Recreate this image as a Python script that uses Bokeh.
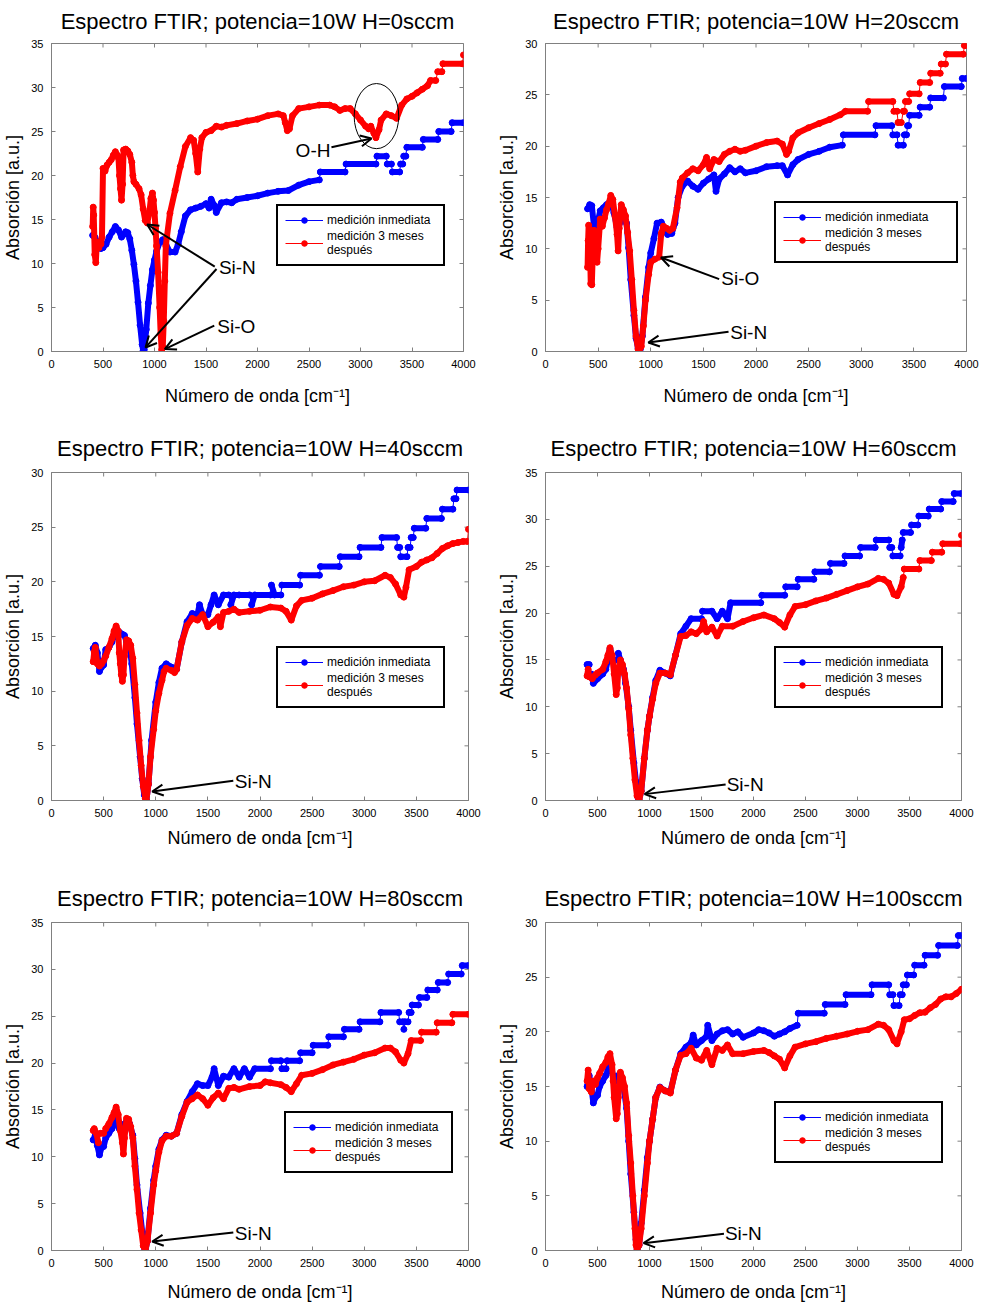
import math
from bokeh.plotting import figure
from bokeh.models import (Range1d, SingleIntervalTicker, Legend, LegendItem,
                          Arrow, OpenHead, Label)
from bokeh.layouts import column, row
from bokeh.embed import file_html
from bokeh.resources import INLINE

FONT = "Liberation Sans"
BLUE = "#0000ff"
RED = "#ff0000"

titles = ["Espectro FTIR; potencia=10W H=0sccm", "Espectro FTIR; potencia=10W H=20sccm",
          "Espectro FTIR; potencia=10W H=40sccm", "Espectro FTIR; potencia=10W H=60sccm",
          "Espectro FTIR; potencia=10W H=80sccm", "Espectro FTIR; potencia=10W H=100sccm"]
y_max = [35, 30, 30, 35, 35, 30]
x_ticks = [0, 500, 1000, 1500, 2000, 2500, 3000, 3500, 4000]
x_label = "Número de onda [cm⁻¹]"
y_label = "Absorción [a.u.]"
legend_labels = ["medición inmediata", "medición 3 meses\ndespués"]

# ---------------- H = 0 sccm ----------------
x_h0_inm = [400,420,440,460,480,500,530,560,590,620,650,680,700,720,740,760,780,800,820,840,860,880,890,900,
            920,940,960,980,1000,1020,1050,1080,1110,1150,1200,1230,1260,1300,1350,1400,1450,1500,1530,1550,
            1580,1600,1650,1700,1750,1800,1900,2000,2100,2200,2300,2400,2500,2600,2610,2850,2860,3150,3160,
            3250,3260,3300,3310,3380,3390,3410,3420,3440,3450,3600,3610,3750,3760,3880,3890,4000]
y_h0_inm = [13.2,13.0,12.5,12.0,11.7,11.8,12.2,13.0,13.6,14.2,13.8,13.0,13.3,13.6,13.5,12.8,11.5,9.9,8.0,5.6,3.0,0.8,0.1,0.2,
            2.5,5.5,7.5,9.3,10.4,11.4,12.4,12.7,12.2,11.3,11.3,12.2,13.6,15.4,16.1,16.3,16.5,16.8,16.3,17.3,
            16.6,15.8,16.9,17.0,16.9,17.3,17.5,17.7,18.0,18.2,18.3,18.9,19.3,19.5,20.4,20.4,21.3,21.3,22.2,
            22.2,21.3,21.3,20.4,20.4,21.3,21.3,22.2,22.2,23.2,23.2,24.1,24.1,25.0,25.0,26.0,26.0]
x_h0_3m = [400,405,410,420,430,440,450,460,470,480,490,500,520,540,560,580,600,620,640,650,660,670,680,690,
           700,720,740,760,780,790,800,820,850,870,890,910,930,950,965,980,990,1000,1010,1020,1035,1050,1060,
           1070,1080,1090,1100,1110,1120,1150,1200,1250,1300,1350,1380,1400,1420,1440,1460,1500,1550,1600,
           1650,1700,1800,1900,2000,2100,2200,2250,2270,2290,2310,2340,2400,2500,2600,2700,2750,2800,2850,
           2900,2950,3000,3050,3080,3100,3130,3150,3180,3200,3250,3300,3350,3400,3450,3500,3550,3600,3650,
           3680,3730,3750,3790,3800,3990,4000]
y_h0_3m = [14.2,16.4,15.5,11.0,10.1,12.3,12.0,11.8,12.5,12.2,13.0,20.8,20.5,21.2,21.5,21.8,22.3,22.7,22.3,22.0,20.0,18.5,17.2,19.0,
           22.9,23.0,22.8,22.4,21.5,20.0,19.3,19.0,18.5,17.8,16.2,14.9,14.6,15.8,17.4,18.0,17.2,15.8,14.0,12.0,9.0,5.0,2.0,
           0.2,0.5,3.5,8.0,12.0,13.0,15.7,18.3,21.0,23.3,24.3,24.0,22.5,20.4,23.0,24.3,24.9,25.1,25.6,
           25.5,25.7,25.9,26.2,26.4,26.8,27.0,26.8,26.0,25.1,25.3,26.8,27.6,27.8,28.0,28.0,27.8,27.4,27.6,
           27.6,27.0,26.3,25.6,25.3,25.6,24.8,24.3,25.2,26.3,27.0,26.8,26.5,28.0,28.7,29.0,29.4,29.8,30.2,
           30.8,30.8,31.8,31.8,32.7,32.7,33.7]

# ---------------- H = 20 sccm ----------------
x_h20_inm = [400,420,440,460,480,500,520,550,580,620,650,680,700,720,750,770,790,810,840,860,880,900,920,950,
             980,1000,1030,1060,1100,1130,1160,1200,1230,1260,1300,1350,1400,1450,1500,1550,1600,1620,1650,
             1700,1750,1800,1850,1900,2000,2100,2200,2250,2300,2350,2400,2500,2600,2700,2820,2830,3130,3140,
             3290,3300,3340,3350,3400,3410,3430,3440,3450,3460,3550,3560,3650,3660,3780,3790,3950,3960,4000]
y_h20_inm = [13.9,14.3,14.2,12.3,12.0,12.8,13.7,14.0,14.3,14.7,13.5,12.1,12.4,12.8,13.0,12.5,10.1,7.0,3.5,1.3,0.3,0.2,1.5,5.3,
             8.2,9.6,11.0,12.5,12.6,12.0,11.4,11.5,12.5,15.0,16.1,16.6,16.1,15.8,16.4,16.8,17.2,15.6,16.8,
             17.3,17.9,17.5,17.8,17.4,17.6,18.0,18.1,18.1,17.2,18.2,18.7,19.2,19.5,19.9,20.1,21.1,21.1,22.0,
             22.0,21.1,21.1,20.1,20.1,21.1,21.1,22.0,22.0,23.0,23.0,23.8,23.8,24.7,24.7,25.8,25.8,26.6,26.6]
x_h20_3m = [400,405,410,420,430,440,450,460,470,480,490,500,520,540,560,580,600,620,640,660,680,690,700,720,
            740,760,780,800,820,840,860,880,890,910,930,950,980,1000,1040,1080,1100,1120,1150,1180,1210,1250,
            1280,1300,1350,1400,1450,1500,1530,1560,1600,1650,1700,1750,1800,1850,1900,2000,2100,2200,2250,
            2290,2310,2350,2400,2500,2600,2700,2800,2850,3060,3070,3300,3310,3340,3350,3380,3400,3410,3420,
            3450,3460,3550,3560,3650,3660,3750,3760,3800,3810,3970,3980,4000]
y_h20_3m = [8.2,10.8,12.3,11.5,6.6,6.5,9.8,11.8,10.5,11.0,8.7,10.0,12.9,12.2,13.0,13.8,14.4,15.2,14.8,13.2,11.4,9.8,12.0,14.3,
            13.8,13.2,11.6,9.8,7.0,4.0,1.5,0.2,0.0,0.5,2.5,5.0,7.5,8.7,9.0,9.2,11.5,12.2,12.0,11.8,12.0,14.0,
            16.5,16.9,17.4,17.8,17.6,18.2,18.9,17.8,18.7,18.5,19.2,19.5,19.7,19.5,19.6,20.0,20.35,20.5,20.2,
            19.2,19.5,20.8,21.3,21.8,22.2,22.6,23.05,23.4,23.4,24.35,24.35,23.4,23.4,22.3,22.3,23.4,23.4,24.35,
            24.35,25.1,25.1,26.2,26.2,27.1,27.1,28.0,28.0,28.96,28.96,29.8,29.8]

# ---------------- H = 40 sccm ----------------
x_h40_inm = [400,420,440,460,480,500,520,550,580,600,620,650,680,700,720,750,770,800,820,850,870,890,910,930,
             960,1000,1030,1060,1100,1150,1200,1250,1300,1350,1400,1420,1450,1500,1530,1560,1600,1650,1700,1720,
             1750,1800,1900,1920,1950,2100,2110,2140,2200,2210,2380,2390,2570,2580,2760,2770,2950,2960,3160,
             3170,3310,3320,3340,3350,3410,3420,3440,3450,3470,3480,3590,3600,3740,3750,3850,3860,3880,3890,4000]
y_h40_inm = [13.9,14.2,13.5,11.8,12.2,12.4,13.8,14.0,14.5,15.0,15.7,15.4,15.2,15.1,14.5,14.0,12.5,9.4,7.0,4.0,2.0,0.5,0.0,1.5,
             5.5,9.0,10.8,12.1,12.5,12.2,12.0,14.5,16.35,17.1,17.0,17.9,17.0,17.0,17.9,18.8,17.9,18.8,18.8,17.9,
             18.8,18.8,18.8,17.9,18.8,18.8,19.7,18.8,18.8,19.7,19.7,20.6,20.6,21.4,21.4,22.3,22.3,23.15,23.15,
             24.05,24.05,23.15,23.15,22.3,22.3,23.15,23.15,24.05,24.05,24.9,24.9,25.8,25.8,26.65,26.65,27.6,27.6,28.4,28.4]
x_h40_3m = [400,410,420,440,460,480,500,520,550,580,600,620,640,650,660,670,680,690,700,720,740,760,780,800,
            820,840,860,880,900,910,930,950,980,1000,1030,1060,1080,1100,1150,1180,1200,1250,1300,1350,1400,
            1450,1500,1550,1600,1620,1650,1700,1750,1800,1900,2000,2100,2200,2250,2300,2350,2400,2500,2600,
            2700,2800,2900,3000,3100,3200,3250,3300,3350,3380,3400,3430,3500,3550,3600,3650,3700,3750,3800,
            3850,3900,3950,3990,4000]
y_h40_3m = [12.7,13.6,14.0,12.5,12.3,12.5,12.8,13.2,14.0,14.8,15.5,15.96,15.5,13.5,12.5,11.5,10.9,11.5,13.2,14.7,14.6,14.2,13.0,10.6,
            8.0,5.5,3.2,1.3,0.2,0.0,1.5,4.0,6.5,8.2,9.8,11.0,11.8,12.1,11.9,11.7,12.0,14.5,16.0,16.65,16.5,
            17.0,15.9,16.3,16.8,15.9,17.2,17.3,17.5,17.2,17.3,17.4,17.7,17.6,17.3,16.5,17.8,18.3,18.5,18.9,
            19.2,19.55,19.7,20.0,20.1,20.6,20.4,19.8,18.8,18.6,19.5,21.1,21.4,21.8,22.0,22.2,22.6,23.05,23.3,
            23.5,23.6,23.7,23.7,24.8]

# ---------------- H = 60 sccm ----------------
x_h60_inm = [400,420,440,460,480,500,550,580,600,620,650,680,700,720,750,770,800,820,850,870,890,900,920,950,
             980,1000,1030,1060,1100,1150,1200,1250,1300,1350,1400,1500,1510,1600,1650,1700,1750,1780,2070,2080,
             2300,2310,2420,2430,2580,2590,2730,2740,2870,2880,3020,3030,3170,3180,3300,3310,3330,3340,3410,
             3420,3430,3440,3510,3520,3580,3590,3680,3690,3800,3810,3920,3930,4000]
y_h60_inm = [14.5,14.5,13.5,12.5,12.8,13.0,13.5,14.0,15.0,16.2,15.0,15.0,15.7,15.0,14.0,12.5,10.0,7.5,4.0,2.0,0.3,0.0,1.0,4.5,
             7.5,9.0,11.0,12.8,13.9,13.6,13.3,15.5,17.8,18.6,19.4,19.4,20.2,20.2,19.4,20.2,19.4,21.1,21.1,21.9,
             21.9,22.8,22.8,23.6,23.6,24.4,24.4,25.3,25.3,26.1,26.1,27.0,27.0,27.8,27.8,27.0,27.0,26.1,26.1,
             27.0,27.8,28.6,28.6,29.4,29.4,30.35,30.35,31.1,31.1,31.9,31.9,32.75,32.75]
x_h60_3m = [400,410,420,450,480,500,550,580,600,620,640,660,680,690,700,720,740,760,780,800,820,840,860,880,
            900,920,950,980,1000,1030,1060,1100,1150,1200,1250,1300,1350,1400,1450,1500,1520,1550,1600,1650,
            1700,1800,1900,2000,2100,2200,2250,2300,2350,2400,2500,2600,2700,2800,2900,3000,3100,3200,3250,
            3300,3350,3380,3420,3440,3450,3590,3600,3710,3720,3810,3820,3990,4000]
y_h60_3m = [13.3,14.0,13.2,13.0,13.4,13.6,14.0,14.8,15.5,16.3,15.5,13.5,11.3,12.0,14.0,15.0,14.5,13.5,12.0,9.8,7.0,4.5,2.2,0.5,
            0.0,1.0,4.5,7.5,9.0,10.8,12.5,13.6,13.6,13.4,15.5,17.5,17.6,18.0,17.8,18.3,19.1,18.0,18.5,17.55,
            18.6,18.6,19.1,19.5,19.8,19.4,19.0,18.5,19.8,20.7,20.9,21.3,21.6,22.0,22.4,22.8,23.1,23.7,23.6,
            23.2,22.0,21.85,22.8,23.8,24.7,24.7,25.6,25.6,26.5,26.5,27.4,27.4,28.3]

# ---------------- H = 80 sccm ----------------
x_h80_inm = [400,420,440,460,480,500,520,550,580,600,620,650,680,700,720,750,780,800,820,850,870,890,900,920,
             950,980,1000,1030,1060,1100,1150,1200,1250,1300,1350,1400,1450,1500,1540,1560,1600,1650,1700,1750,
             1800,1850,1900,1950,2100,2110,2200,2210,2250,2260,2380,2390,2500,2510,2650,2660,2800,2810,2950,
             2960,3150,3160,3330,3340,3370,3380,3390,3420,3430,3450,3460,3520,3530,3600,3610,3700,3710,3800,
             3810,3930,3940,4000]
y_h80_inm = [11.8,12.3,11.2,10.2,11.0,11.1,12.0,12.5,13.0,13.5,13.9,13.0,12.5,13.5,13.8,13.5,12.3,9.8,7.0,4.0,2.0,0.3,0.0,1.0,
             4.5,7.5,9.0,10.8,11.8,12.3,12.2,12.5,14.5,15.9,16.95,17.8,17.6,17.6,18.5,19.4,17.6,18.6,18.5,19.4,
             18.5,19.4,18.5,19.4,19.4,20.25,20.25,19.4,19.4,20.25,20.25,21.1,21.1,21.9,21.9,22.8,22.8,23.6,23.6,
             24.4,24.4,25.4,25.4,24.4,24.4,23.6,24.4,24.4,25.4,25.4,26.2,26.2,27.0,27.0,27.8,27.8,28.6,28.6,
             29.5,29.5,30.4,30.4]
x_h80_3m = [400,410,430,450,470,500,520,550,580,600,620,640,660,680,690,700,720,740,760,780,800,820,840,860,
            880,900,920,950,980,1000,1030,1060,1100,1150,1200,1250,1300,1350,1400,1450,1500,1550,1600,1650,
            1700,1750,1800,1900,2000,2050,2100,2200,2250,2300,2350,2400,2500,2600,2700,2800,2900,3000,3100,
            3200,3250,3300,3350,3380,3420,3450,3540,3550,3690,3700,3840,3850,4000]
y_h80_3m = [12.8,13.0,12.5,11.5,12.5,12.5,13.0,13.5,14.2,14.7,15.3,14.5,12.8,11.5,10.3,12.0,14.1,14.0,13.2,12.0,9.0,6.5,4.0,2.2,
            0.5,0.0,1.0,4.0,7.0,8.5,10.5,11.7,12.2,12.2,12.5,14.3,15.8,16.2,16.6,16.2,15.5,16.3,16.8,16.2,
            17.3,17.4,17.2,17.5,17.6,18.0,17.9,17.7,17.4,16.95,17.8,18.7,18.9,19.3,19.8,20.1,20.4,20.85,21.1,
            21.6,21.6,21.2,20.3,20.0,21.0,22.4,22.4,23.3,23.3,24.3,24.3,25.2,25.2]

# ---------------- H = 100 sccm ----------------
x_h100_inm = [400,420,440,460,480,500,520,550,580,600,620,650,680,700,720,750,780,800,820,850,870,880,900,920,
              950,980,1000,1030,1060,1100,1150,1200,1250,1300,1350,1400,1420,1450,1500,1550,1560,1600,1650,1700,
              1750,1800,1850,1900,2000,2050,2100,2150,2200,2250,2300,2350,2420,2430,2680,2690,2880,2890,3130,
              3140,3300,3310,3340,3350,3400,3410,3430,3440,3470,3480,3540,3550,3640,3650,3770,3780,3960,3970,4000]
y_h100_inm = [15.0,16.0,15.0,13.5,14.0,14.2,15.0,15.5,16.0,16.5,17.1,16.0,15.5,16.0,15.8,15.0,13.0,10.0,7.0,3.5,1.0,0.0,0.5,2.5,
              5.5,8.5,10.0,12.0,14.0,14.95,14.6,14.5,16.5,18.0,18.6,19.0,19.7,18.8,19.2,19.6,20.6,19.2,19.8,20.1,
              20.2,19.8,20.0,19.5,19.9,20.2,20.1,19.9,19.6,19.8,20.0,20.3,20.6,21.7,21.7,22.5,22.5,23.4,23.4,
              24.3,24.3,23.4,23.4,22.4,22.4,23.4,23.4,24.3,24.3,25.2,25.2,26.1,26.1,27.0,27.0,27.9,27.9,28.8,28.8]
x_h100_3m = [400,410,420,440,460,480,500,520,550,580,600,620,640,650,660,680,690,700,720,740,760,780,800,820,
             840,860,870,880,900,920,950,980,1000,1030,1060,1100,1150,1200,1250,1300,1350,1400,1450,1500,1550,
             1600,1650,1700,1750,1800,1900,2000,2100,2150,2200,2250,2300,2350,2400,2500,2600,2700,2800,2900,
             3000,3100,3200,3250,3300,3350,3380,3420,3450,3500,3550,3600,3650,3700,3750,3800,3850,3900,3950,4000]
y_h100_3m = [15.5,16.5,14.8,14.5,15.5,15.2,15.8,16.2,16.8,17.2,17.7,18.0,17.0,15.5,14.0,12.05,12.5,14.0,16.3,15.8,15.0,13.5,10.5,8.0,
             5.0,2.0,0.5,0.0,0.5,2.0,5.0,8.0,10.0,12.0,14.0,14.9,14.6,14.4,16.5,17.85,18.0,18.5,17.6,17.4,18.3,
             17.0,18.5,18.3,18.8,18.0,18.0,18.2,18.3,18.1,17.8,17.5,16.7,17.8,18.6,18.9,19.1,19.4,19.6,19.8,
             20.05,20.2,20.7,20.6,20.2,19.2,18.9,20.0,21.1,21.2,21.5,21.75,21.8,22.2,22.5,23.0,23.2,23.2,23.5,23.9]

# annotation texts/positions (data units) per panel
notes = [
    [("O-H", 2370, 22.85), ("Si-N", 1625, 9.5), ("Si-O", 1610, 2.85)],
    [("Si-O", 1670, 7.14), ("Si-N", 1755, 1.85)],
    [("Si-N", 1758, 1.7)],
    [("Si-N", 1742, 1.67)],
    [("Si-N", 1758, 1.85)],
    [("Si-N", 1725, 1.53)],
]
arrows = [
    [(2718, 23.2, 3107, 24.2), (1585, 9.65, 929, 14.43), (1602, 9.38, 913, 0.46), (1580, 2.93, 1100, 0.27)],
    [(1650, 7.05, 1097, 9.16), (1739, 1.92, 977, 0.88)],
    [(1744, 1.8, 966, 0.82)],
    [(1732, 1.7, 953, 0.68)],
    [(1744, 1.92, 966, 0.96)],
    [(1716, 1.53, 943, 0.67)],
]

series = [
    (x_h0_inm, y_h0_inm, x_h0_3m, y_h0_3m),
    (x_h20_inm, y_h20_inm, x_h20_3m, y_h20_3m),
    (x_h40_inm, y_h40_inm, x_h40_3m, y_h40_3m),
    (x_h60_inm, y_h60_inm, x_h60_3m, y_h60_3m),
    (x_h80_inm, y_h80_inm, x_h80_3m, y_h80_3m),
    (x_h100_inm, y_h100_inm, x_h100_3m, y_h100_3m),
]

# layout (frame size, borders l, r, t, b, title standoff, x-label standoff, legend location / label width)
layout = [
    dict(fw=412, fh=308, l=50, r=31, t=43, b=74, ts=15, xs=15, leg=(225, 85), lw=109),
    dict(fw=421, fh=308, l=50, r=22, t=43, b=74, ts=15, xs=15, leg=(229, 88), lw=124),
    dict(fw=417, fh=328, l=50, r=26, t=47, b=75, ts=19, xs=8, leg=(225, 92), lw=109),
    dict(fw=416, fh=328, l=50, r=27, t=47, b=75, ts=19, xs=8, leg=(229, 92), lw=109),
    dict(fw=417, fh=328, l=50, r=26, t=47, b=55, ts=19, xs=12, leg=(233, 77), lw=109),
    dict(fw=416, fh=328, l=50, r=27, t=47, b=55, ts=19, xs=12, leg=(229, 87), lw=109),
]

GRAY = "#808080"


def split_runs(xs, ys):
    # thick bands along the measured points; the thin quantisation jumps between flat steps stay thin
    segs_x, segs_y = [[xs[0]]], [[ys[0]]]
    n = len(xs)
    for k in range(1, n):
        jump = xs[k] - xs[k - 1] <= 20 and abs(ys[k] - ys[k - 1]) >= 0.5
        flat_before = k >= 2 and ys[k - 1] == ys[k - 2]
        flat_after = k + 1 < n and ys[k + 1] == ys[k]
        if jump and (flat_before or flat_after):
            segs_x.append([])
            segs_y.append([])
        segs_x[-1].append(xs[k])
        segs_y[-1].append(ys[k])
    return segs_x, segs_y


def make_panel(i):
    L = layout[i]
    xb, yb, xr, yr = series[i]
    ymax = y_max[i]
    p = figure(frame_width=L["fw"], frame_height=L["fh"], min_border_left=L["l"], min_border_right=L["r"],
               min_border_top=L["t"], min_border_bottom=L["b"], x_range=Range1d(0, 4000),
               y_range=Range1d(0, ymax), output_backend="svg", toolbar_location=None,
               title=titles[i])
    p.title.text_font = FONT
    p.title.text_font_size = "22px"
    p.title.text_font_style = "normal"
    p.title.align = "center"
    p.title.vertical_align = "top"
    p.title.standoff = L["ts"]
    p.title.text_color = "#000000"
    p.grid.visible = False
    p.outline_line_color = GRAY
    p.outline_line_width = 1
    p.background_fill_color = "white"
    p.border_fill_color = "white"

    for ax in (p.xaxis[0], p.yaxis[0]):
        ax.major_tick_in = 4
        ax.major_tick_out = 0
        ax.minor_tick_line_color = None
        ax.axis_line_color = GRAY
        ax.major_tick_line_color = GRAY
        ax.major_label_text_font = FONT
        ax.major_label_text_font_size = "11px"
        ax.major_label_text_color = "#000000"
        ax.major_label_standoff = 4
        ax.axis_label_text_font = FONT
        ax.axis_label_text_font_size = "18px"
        ax.axis_label_text_font_style = "normal"
        ax.axis_label_text_color = "#000000"
    p.xaxis[0].ticker = SingleIntervalTicker(interval=500)
    p.yaxis[0].ticker = SingleIntervalTicker(interval=5)
    p.xaxis[0].axis_label = x_label
    p.yaxis[0].axis_label = y_label
    p.xaxis[0].axis_label_standoff = L["xs"]
    p.yaxis[0].axis_label_standoff = 5

    # inward ticks on the top and right edges of the box (half of each dash is clipped by the frame)
    y_ticks = list(range(0, ymax + 1, 5))
    p.scatter(x=x_ticks, y=[ymax] * len(x_ticks), marker="dash", size=8, angle=math.pi / 2,
              line_color=GRAY, line_width=1)
    p.scatter(x=[4000] * len(y_ticks), y=y_ticks, marker="dash", size=8, angle=0,
              line_color=GRAY, line_width=1)

    items = []
    for xs, ys, col, lab in ((xb, yb, BLUE, legend_labels[0]), (xr, yr, RED, legend_labels[1])):
        sx, sy = split_runs(xs, ys)
        p.multi_line(sx, sy, line_color=col, line_width=6, line_join="round", line_cap="round")
        thin = p.line(xs, ys, line_color=col, line_width=1)
        dots = p.scatter(xs, ys, size=6, fill_color=col, line_color=col, marker="circle")
        items.append(LegendItem(label=lab, renderers=[thin, dots]))

    if i == 0:
        p.ellipse(x=[3155], y=[26.75], width=[433], height=[7.4], fill_color=None,
                  line_color="black", line_width=1)

    for (txt, tx, ty) in notes[i]:
        p.add_layout(Label(x=tx, y=ty, text=txt, text_font=FONT, text_font_size="19px",
                           text_baseline="middle", text_align="left", text_color="black"))
    for (x0, y0, x1, y1) in arrows[i]:
        p.add_layout(Arrow(x_start=x0, y_start=y0, x_end=x1, y_end=y1, line_width=2, line_color="black",
                           end=OpenHead(size=11, line_width=2, line_color="black")))

    leg = Legend(items=items, location=L["leg"], label_text_font=FONT, label_text_font_size="12px",
                 label_text_color="black", label_standoff=4, glyph_width=38, glyph_height=14,
                 label_height=14, label_width=L["lw"], padding=7, spacing=2, margin=0,
                 border_line_color="black", border_line_width=2, border_line_alpha=1.0,
                 background_fill_color="white", background_fill_alpha=1.0)
    p.add_layout(leg)
    return p


figs = [make_panel(i) for i in range(6)]
lay = column(row(figs[0], figs[1]), row(figs[2], figs[3]), row(figs[4], figs[5]))
open("out.html", "w").write(file_html(lay, INLINE))
